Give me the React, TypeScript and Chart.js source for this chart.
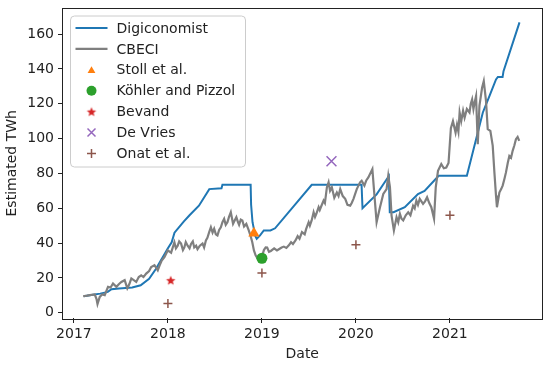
import React, { useEffect, useRef } from "react";
import { Chart, registerables } from "chart.js";

Chart.register(...registerables);

// ---------- data ----------
const digiYears = [
  2017.106, 2017.2, 2017.28, 2017.36, 2017.4, 2017.48, 2017.62, 2017.71, 2017.8, 2017.87,
  2017.94, 2018.0, 2018.04, 2018.07, 2018.17, 2018.23, 2018.33, 2018.44, 2018.57, 2018.58,
  2018.88, 2018.885, 2018.9, 2018.93, 2018.945, 2018.98, 2019.02, 2019.09, 2019.14, 2019.53,
  2020.06, 2020.07, 2020.22, 2020.35, 2020.36, 2020.4, 2020.52, 2020.66, 2020.73, 2020.88,
  2021.18, 2021.35, 2021.42, 2021.49, 2021.51, 2021.56, 2021.57, 2021.74,
];
const digiValues = [
  9.5, 10.3, 11, 12, 13.5, 14, 14.5, 15.8, 19.5, 25,
  31.5, 37, 40.5, 46, 52.5, 56, 61.5, 71, 71.5, 73.5,
  73.5, 62, 52, 44, 42.5, 44.4, 47.3, 47.3, 48.5, 73.5,
  73.5, 60, 68, 78.5, 57.7, 57.7, 60.6, 68.2, 70, 78.7,
  78.7, 115, 124.4, 134, 135.4, 135.4, 138.7, 166.7,
];

const cbeciYears = [
  2017.098, 2017.14, 2017.17, 2017.222, 2017.24, 2017.251, 2017.275, 2017.3, 2017.328, 2017.363,
  2017.39, 2017.416, 2017.452, 2017.48, 2017.505, 2017.54, 2017.568, 2017.59, 2017.611, 2017.663,
  2017.69, 2017.716, 2017.74, 2017.769, 2017.8, 2017.822, 2017.857, 2017.892, 2017.91, 2017.934,
  2017.963, 2017.998, 2018.034, 2018.069, 2018.085, 2018.104, 2018.12, 2018.14, 2018.16, 2018.175,
  2018.19, 2018.21, 2018.23, 2018.246, 2018.265, 2018.28, 2018.3, 2018.315, 2018.34, 2018.368,
  2018.385, 2018.404, 2018.42, 2018.439, 2018.457, 2018.475, 2018.492, 2018.51, 2018.527, 2018.545,
  2018.563, 2018.58, 2018.598, 2018.615, 2018.633, 2018.65, 2018.669, 2018.693, 2018.71, 2018.728,
  2018.745, 2018.757, 2018.775, 2018.792, 2018.81, 2018.834, 2018.86, 2018.88, 2018.897, 2018.915,
  2018.933, 2018.961, 2018.986, 2019.01, 2019.021, 2019.04, 2019.056, 2019.075, 2019.095, 2019.13,
  2019.16, 2019.18, 2019.21, 2019.233, 2019.26, 2019.286, 2019.31, 2019.33, 2019.357, 2019.38,
  2019.4, 2019.426, 2019.455, 2019.47, 2019.497, 2019.51, 2019.529, 2019.55, 2019.565, 2019.58,
  2019.603, 2019.615, 2019.63, 2019.656, 2019.67, 2019.691, 2019.709, 2019.725, 2019.744, 2019.77,
  2019.797, 2019.815, 2019.833, 2019.86, 2019.886, 2019.91, 2019.939, 2019.955, 2019.974, 2020.009,
  2020.044, 2020.061, 2020.09, 2020.11, 2020.132, 2020.175, 2020.193, 2020.22, 2020.256, 2020.291,
  2020.326, 2020.344, 2020.362, 2020.379, 2020.404, 2020.432, 2020.45, 2020.468, 2020.485, 2020.503,
  2020.53, 2020.556, 2020.58, 2020.608, 2020.625, 2020.643, 2020.66, 2020.679, 2020.714, 2020.735,
  2020.757, 2020.78, 2020.802, 2020.831, 2020.849, 2020.873, 2020.908, 2020.935, 2020.961, 2020.985,
  2021.01, 2021.032, 2021.06, 2021.075, 2021.09, 2021.103, 2021.12, 2021.14, 2021.156, 2021.18,
  2021.208, 2021.222, 2021.236, 2021.25, 2021.26, 2021.278, 2021.296, 2021.314, 2021.342, 2021.36,
  2021.384, 2021.402, 2021.43, 2021.455, 2021.473, 2021.49, 2021.5, 2021.526, 2021.545, 2021.561,
  2021.58, 2021.596, 2021.615, 2021.632, 2021.65, 2021.667, 2021.685, 2021.702, 2021.72, 2021.737,
];
const cbeciValues = [
  9.5, 9.8, 10.1, 10.5, 8, 5.0, 9.1, 10.5, 10.1, 14.9,
  14.5, 16.8, 14.9, 16.5, 17.7, 18.7, 14, 16.5, 19.7, 17.7,
  20.5, 21.5, 20.5, 22.5, 24, 26.3, 27.3, 24.4, 27, 30,
  32, 35.8, 34.5, 40.5, 37, 38.5, 41, 39.7, 36, 37.5,
  40.6, 38.5, 37, 39.5, 41, 37.5, 38.5, 36.5, 38.5, 39.7,
  37.5, 41.5, 43, 46.3, 49.1, 46, 48.2, 45, 44.4, 47.5,
  49.1, 52, 53.9, 50.5, 52, 55, 57.7, 51.1, 53, 54.9,
  52, 50.5, 53.5, 53, 49.5, 51, 47.3, 44, 40.6, 35.8,
  33, 30.5, 30.1, 34, 36, 37.5, 37.4, 35, 35.5, 37,
  35.8, 36.5, 37.5, 38, 37.2, 38.7, 40.5, 39.5, 41.5, 44,
  42.5, 46.3, 45, 48, 52, 50, 53, 57.7, 55, 57,
  60.6, 59, 61, 64.4, 63, 72, 74.9, 70, 72, 66,
  69, 67, 71, 67, 65.4, 62, 61.5, 63, 65.4, 71,
  74.9, 75.8, 73, 76, 77.7, 82.5, 70, 52, 60.6, 68.2,
  71, 78.7, 72, 55.8, 47.3, 54.9, 52, 56.8, 54, 53,
  56, 57.7, 56, 61.5, 60, 64.4, 62, 65.4, 62.5, 64,
  66.3, 63, 60.6, 54, 72, 81.5, 85.4, 83, 83.4, 86,
  106, 110, 103.4, 108, 104, 115, 110, 116, 112, 117,
  115, 120, 122.5, 117, 120, 124.4, 96.8, 119, 129.2, 133,
  121.5, 105.4, 104.4, 96, 80.6, 67.3, 60.6, 69, 71, 73,
  77, 80.6, 86, 90, 89, 93, 96, 99.7, 101, 98.7,
];

const stollYears = [2018.915];
const stollValues = [45.6];
const kohlerYears = [2019.0];
const kohlerValues = [31.3];
const bevandYears = [2018.03];
const bevandValues = [18.7];
const devriesYears = [2019.74];
const devriesValues = [87];
const onatYears = [2018.0, 2019.0, 2020.0, 2021.0];
const onatValues = [5.3, 22.8, 39, 56];

const xTicks = [2017, 2018, 2019, 2020, 2021];
const yTicks = [0, 20, 40, 60, 80, 100, 120, 140, 160];

// ---------- helpers ----------
const FONT = '"DejaVu Sans", "Liberation Sans", sans-serif';
const TEXT = "#222222";

function pts(xs: number[], ys: number[]) {
  return xs.map((x, i) => ({ x, y: ys[i] }));
}

function makeStar(color: string, R: number, r: number) {
  const c = document.createElement("canvas");
  const s = Math.ceil(R * 2 + 2);
  c.width = s;
  c.height = s;
  const g = c.getContext("2d")!;
  g.beginPath();
  for (let k = 0; k < 10; k++) {
    const ang = -Math.PI / 2 + (k * Math.PI) / 5;
    const rad = k % 2 === 0 ? R : r;
    g.lineTo(s / 2 + rad * Math.cos(ang), s / 2 + 0.5 + rad * Math.sin(ang));
  }
  g.closePath();
  g.fillStyle = color;
  g.fill();
  return c;
}

function drawMarker(ctx: CanvasRenderingContext2D, ds: any, x: number, y: number) {
  const style = ds.pointStyle;
  const color = ds.borderColor;
  ctx.save();
  ctx.fillStyle = ds.backgroundColor;
  ctx.strokeStyle = color;
  if (typeof style !== "string") {
    ctx.drawImage(style, x - style.width / 2, y - style.height / 2);
  } else if (style === "triangle") {
    const r = 4.5;
    ctx.beginPath();
    for (let k = 0; k < 3; k++) {
      const a = (k * 2 * Math.PI) / 3;
      ctx.lineTo(x + Math.sin(a) * r, y - Math.cos(a) * r + 1);
    }
    ctx.closePath();
    ctx.fill();
  } else if (style === "circle") {
    ctx.beginPath();
    ctx.arc(x, y, 5, 0, Math.PI * 2);
    ctx.fill();
  } else if (style === "crossRot") {
    const h = 4;
    ctx.lineWidth = 1.5;
    ctx.beginPath();
    ctx.moveTo(x - h, y - h);
    ctx.lineTo(x + h, y + h);
    ctx.moveTo(x + h, y - h);
    ctx.lineTo(x - h, y + h);
    ctx.stroke();
  } else if (style === "cross") {
    const h = 4.5;
    ctx.lineWidth = 1.5;
    ctx.beginPath();
    ctx.moveTo(x - h, y);
    ctx.lineTo(x + h, y);
    ctx.moveTo(x, y - h);
    ctx.lineTo(x, y + h);
    ctx.stroke();
  }
  ctx.restore();
}

const framePlugin = {
  id: "mplFrame",
  afterDatasetsDraw(chart: any) {
    const { ctx, chartArea: a } = chart;
    ctx.save();
    ctx.strokeStyle = TEXT;
    ctx.lineWidth = 1;
    ctx.strokeRect(Math.round(a.left) - 0.5, Math.round(a.top) - 0.5, Math.round(a.right - a.left) + 1, Math.round(a.bottom - a.top) + 1);
    ctx.restore();
  },
};

const legendPlugin = {
  id: "mplLegend",
  afterDraw(chart: any) {
    const { ctx, chartArea: a } = chart;
    const x0 = a.left + 7.5;
    const y0 = a.top + 7.5;
    const w = 175;
    const h = 151;
    const r = 4;
    ctx.save();
    ctx.beginPath();
    ctx.moveTo(x0 + r, y0);
    ctx.lineTo(x0 + w - r, y0);
    ctx.arcTo(x0 + w, y0, x0 + w, y0 + r, r);
    ctx.lineTo(x0 + w, y0 + h - r);
    ctx.arcTo(x0 + w, y0 + h, x0 + w - r, y0 + h, r);
    ctx.lineTo(x0 + r, y0 + h);
    ctx.arcTo(x0, y0 + h, x0, y0 + h - r, r);
    ctx.lineTo(x0, y0 + r);
    ctx.arcTo(x0, y0, x0 + r, y0, r);
    ctx.closePath();
    ctx.fillStyle = "rgba(255,255,255,0.8)";
    ctx.fill();
    ctx.strokeStyle = "#cccccc";
    ctx.lineWidth = 1;
    ctx.stroke();

    chart.data.datasets.forEach((ds: any, i: number) => {
      const cy = y0 + 12 + i * 20.9;
      const sx = x0 + 5;
      if (ds.showLine !== false) {
        ctx.strokeStyle = ds.borderColor;
        ctx.lineWidth = ds.borderWidth;
        ctx.beginPath();
        ctx.moveTo(sx, cy);
        ctx.lineTo(sx + 32, cy);
        ctx.stroke();
      } else {
        drawMarker(ctx, ds, sx + 16, cy);
      }
      ctx.fillStyle = TEXT;
      ctx.font = `14px ${FONT}`;
      ctx.textBaseline = "middle";
      ctx.textAlign = "left";
      ctx.fillText(ds.label, sx + 41, cy + 1);
    });
    ctx.restore();
  },
};

export default function App() {
  const ref = useRef<HTMLCanvasElement>(null);

  useEffect(() => {
    const canvas = ref.current!;
    const star = makeStar("#d62728", 5, 2.2);

    const chart = new Chart(canvas, {
      type: "line",
      data: {
        datasets: [
          {
            label: "Digiconomist",
            data: pts(digiYears, digiValues),
            borderColor: "#1f77b4",
            backgroundColor: "#1f77b4",
            borderWidth: 2,
            pointRadius: 0,
            tension: 0,
            fill: false,
            order: 8,
          },
          {
            label: "CBECI",
            data: pts(cbeciYears, cbeciValues),
            borderColor: "#7f7f7f",
            backgroundColor: "#7f7f7f",
            borderWidth: 2.2,
            pointRadius: 0,
            tension: 0,
            fill: false,
            order: 7,
          },
          {
            label: "Stoll et al.",
            data: pts(stollYears, stollValues),
            showLine: false,
            pointStyle: "triangle",
            pointRadius: 6.5,
            borderWidth: 0,
            borderColor: "#ff7f0e",
            backgroundColor: "#ff7f0e",
            order: 1,
          },
          {
            label: "Köhler and Pizzol",
            data: pts(kohlerYears, kohlerValues),
            showLine: false,
            pointStyle: "circle",
            pointRadius: 5.5,
            borderWidth: 0,
            borderColor: "#2ca02c",
            backgroundColor: "#2ca02c",
            order: 2,
          },
          {
            label: "Bevand",
            data: pts(bevandYears, bevandValues),
            showLine: false,
            pointStyle: star as any,
            pointRadius: 5,
            borderWidth: 0,
            borderColor: "#d62728",
            backgroundColor: "#d62728",
            order: 3,
          },
          {
            label: "De Vries",
            data: pts(devriesYears, devriesValues),
            showLine: false,
            pointStyle: "crossRot",
            pointRadius: 7,
            borderWidth: 1.5,
            borderColor: "#9467bd",
            backgroundColor: "#9467bd",
            order: 4,
          },
          {
            label: "Onat et al.",
            data: pts(onatYears, onatValues),
            showLine: false,
            pointStyle: "cross",
            pointRadius: 4.5,
            borderWidth: 1.5,
            borderColor: "#8c564b",
            backgroundColor: "#8c564b",
            order: 5,
          },
        ] as any,
      },
      options: {
        responsive: false,
        maintainAspectRatio: false,
        animation: false,
        devicePixelRatio: 1,
        events: [],
        layout: { padding: { top: 7, right: 6, left: 0, bottom: 0 } },
        plugins: {
          legend: { display: false },
          tooltip: { enabled: false },
        },
        scales: {
          x: {
            type: "linear",
            min: 2016.884,
            max: 2021.974,
            afterBuildTicks: (s: any) => {
              s.ticks = xTicks.map((v) => ({ value: v }));
            },
            afterFit: (s: any) => {
              s.height = 47;
              s.paddingLeft = 0;
              s.paddingRight = 0;
            },
            ticks: {
              callback: (v: any) => String(v),
              color: TEXT,
              font: { family: FONT, size: 14 },
              padding: 3,
              maxRotation: 0,
              autoSkip: false,
            },
            grid: {
              display: true,
              drawOnChartArea: false,
              drawTicks: true,
              tickLength: 5,
              color: TEXT,
            },
            border: { display: false },
            title: {
              display: true,
              text: "Date",
              color: TEXT,
              font: { family: FONT, size: 14 },
              padding: { top: 0, bottom: 2 },
            },
          },
          y: {
            type: "linear",
            min: -3,
            max: 174.7,
            afterBuildTicks: (s: any) => {
              s.ticks = yTicks.map((v) => ({ value: v }));
            },
            afterFit: (s: any) => {
              s.width = 63;
              s.paddingTop = 0;
              s.paddingBottom = 0;
            },
            ticks: {
              callback: (v: any) => String(v),
              color: TEXT,
              font: { family: FONT, size: 14 },
              padding: 4,
              autoSkip: false,
            },
            grid: {
              display: true,
              drawOnChartArea: false,
              drawTicks: true,
              tickLength: 5,
              color: TEXT,
            },
            border: { display: false },
            title: {
              display: true,
              text: "Estimated TWh",
              color: TEXT,
              font: { family: FONT, size: 14 },
              padding: { top: 4, bottom: 0 },
            },
          },
        },
      } as any,
      plugins: [framePlugin, legendPlugin],
    });

    return () => chart.destroy();
  }, []);

  return (
    <div style={{ position: "absolute", left: 0, top: 0, width: 550, height: 365, background: "#ffffff" }}>
      <canvas ref={ref} width={550} height={365} style={{ width: 550, height: 365, display: "block" }} />
    </div>
  );
}
